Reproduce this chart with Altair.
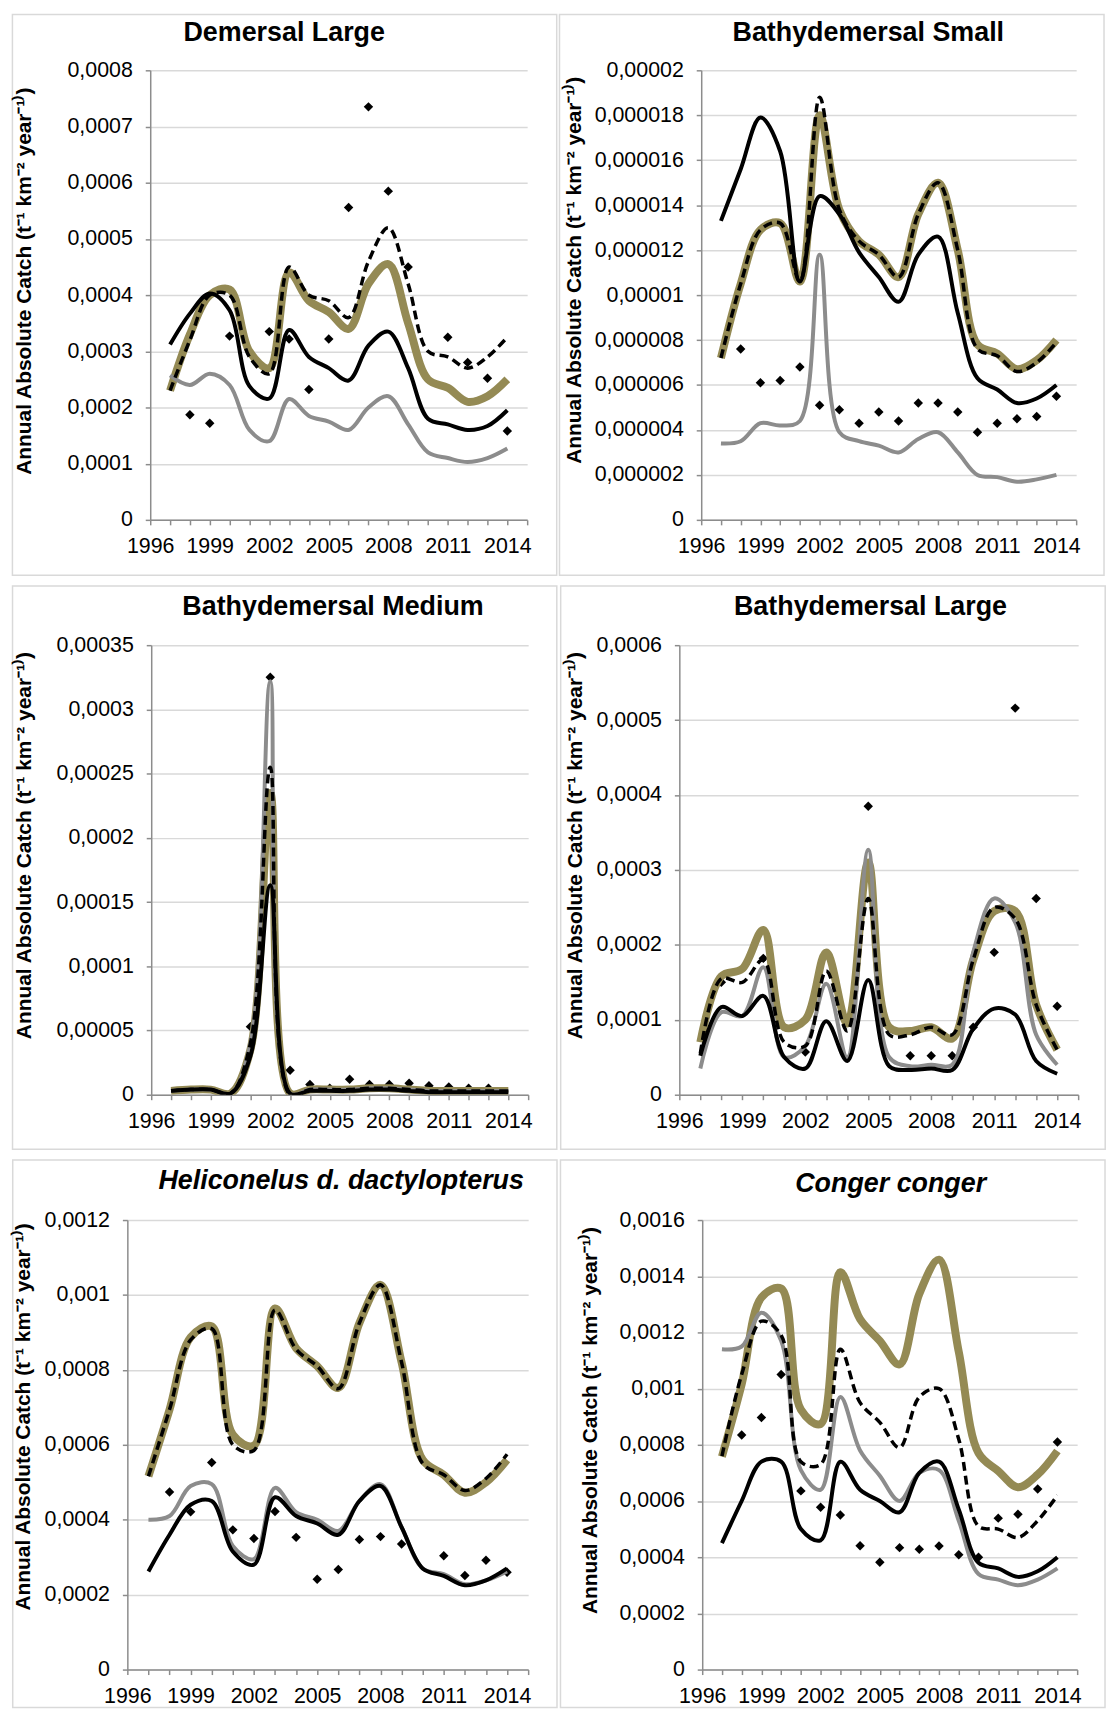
import altair as alt
import pandas as pd

FONT = "Liberation Sans"
YEARS = [1997, 1998, 1999, 2000, 2001, 2002, 2003, 2004, 2005, 2006,
         2007, 2008, 2009, 2010, 2011, 2012, 2013, 2014]
X_TICKS = [1996, 1997, 1998, 1999, 2000, 2001, 2002, 2003, 2004, 2005,
           2006, 2007, 2008, 2009, 2010, 2011, 2012, 2013, 2014, 2015]
Y_TITLE = "Annual Absolute Catch (t⁻¹ km⁻² year⁻¹⁾)"

# ---------------- Demersal Large ----------------
dl_black = [0.000312, 0.000367, 0.000403, 0.000373, 0.000238, 0.000216, 0.000338, 0.00029, 0.00027,
            0.000248, 0.00031, 0.000335, 0.00027, 0.00018, 0.00017, 0.00016, 0.000167, 0.000195]
dl_gray = [0.000257, 0.00024, 0.00026, 0.00024, 0.00016, 0.00014, 0.000215, 0.000185, 0.000175,
           0.00016, 0.0002, 0.00022, 0.00017, 0.00012, 0.00011, 0.000103, 0.00011, 0.000127]
dl_olive = [0.00023, 0.00033, 0.0004, 0.00041, 0.0003, 0.00027, 0.00044, 0.00039, 0.00037,
            0.00034, 0.00042, 0.000455, 0.00035, 0.00025, 0.000235, 0.00021, 0.00022, 0.00025]
dl_dashed = [0.00023, 0.00032, 0.0004, 0.0004, 0.00029, 0.00026, 0.00045, 0.0004, 0.00039,
             0.00036, 0.00046, 0.00052, 0.00042, 0.0003, 0.00029, 0.00027, 0.00029, 0.000325]
dl_obs_years = [1998, 1999, 2000, 2002, 2003, 2004, 2005, 2006, 2007, 2008, 2009, 2011, 2012, 2013, 2014]
dl_obs = [0.000187, 0.000172, 0.000327, 0.000335, 0.000322, 0.000232, 0.000322, 0.000556,
          0.000735, 0.000585, 0.00045, 0.000325, 0.00028, 0.000252, 0.000158]
dl_ticks = [0, 0.0001, 0.0002, 0.0003, 0.0004, 0.0005, 0.0006, 0.0007, 0.0008]

# ---------------- Bathydemersal Small ----------------
bs_black = [13.3e-6, 15.6e-6, 17.9e-6, 16.4e-6, 10.6e-6, 14.4e-6, 13.6e-6, 11.9e-6, 10.8e-6,
            9.7e-6, 11.8e-6, 12.6e-6, 9.2e-6, 6.3e-6, 5.8e-6, 5.2e-6, 5.4e-6, 6.0e-6]
bs_gray = [3.4e-6, 3.5e-6, 4.3e-6, 4.2e-6, 4.4e-6, 11.8e-6, 3.9e-6, 3.5e-6, 3.3e-6,
           3.0e-6, 3.6e-6, 3.9e-6, 3.0e-6, 2.0e-6, 1.9e-6, 1.7e-6, 1.8e-6, 2.0e-6]
bs_olive = [7.2e-6, 10.5e-6, 12.9e-6, 13.2e-6, 10.6e-6, 18.0e-6, 13.8e-6, 12.4e-6, 11.8e-6,
            10.8e-6, 13.6e-6, 15.0e-6, 12.0e-6, 7.8e-6, 7.4e-6, 6.7e-6, 7.1e-6, 8.0e-6]
bs_dashed = [7.2e-6, 10.5e-6, 12.9e-6, 13.2e-6, 10.6e-6, 18.8e-6, 13.8e-6, 12.4e-6, 11.8e-6,
             10.8e-6, 13.6e-6, 15.0e-6, 12.0e-6, 7.6e-6, 7.3e-6, 6.6e-6, 7.0e-6, 7.9e-6]
bs_obs_years = [1998, 1999, 2000, 2001, 2002, 2003, 2004, 2005, 2006, 2007, 2008, 2009,
                2010, 2011, 2012, 2013, 2014]
bs_obs = [7.6e-6, 6.1e-6, 6.2e-6, 6.8e-6, 5.1e-6, 4.9e-6, 4.3e-6, 4.8e-6, 4.4e-6, 5.2e-6,
          5.2e-6, 4.8e-6, 3.9e-6, 4.3e-6, 4.5e-6, 4.6e-6, 5.5e-6]
bs_ticks = [0, 0.000002, 0.000004, 0.000006, 0.000008, 0.00001, 0.000012, 0.000014,
            0.000016, 0.000018, 0.00002]

# ---------------- Bathydemersal Medium ----------------
bm_black = [3e-6, 4e-6, 4e-6, 1e-6, 30e-6, 163e-6, 1e-6, 3e-6, 3e-6,
            3e-6, 4e-6, 4e-6, 3e-6, 2e-6, 2e-6, 2e-6, 2e-6, 2e-6]
bm_gray = [3e-6, 4e-6, 4e-6, 1e-6, 40e-6, 322e-6, 1e-6, 4e-6, 4e-6,
           4e-6, 5e-6, 5e-6, 4e-6, 3e-6, 3e-6, 3e-6, 3e-6, 3e-6]
bm_olive = [3e-6, 4e-6, 4e-6, 1e-6, 35e-6, 235e-6, 1e-6, 4e-6, 4e-6,
            4e-6, 5e-6, 5e-6, 4e-6, 3e-6, 3e-6, 3e-6, 3e-6, 3e-6]
bm_dashed = [3e-6, 4e-6, 4e-6, 1e-6, 40e-6, 255e-6, 0.0, 4e-6, 4e-6,
             4e-6, 5e-6, 5e-6, 4e-6, 3e-6, 3e-6, 3e-6, 3e-6, 3e-6]
bm_obs_years = [2001, 2002, 2003, 2004, 2005, 2006, 2007, 2008, 2009, 2010, 2011, 2012, 2013]
bm_obs = [53e-6, 325e-6, 19e-6, 8e-6, 5e-6, 12e-6, 8e-6, 8e-6, 9e-6, 7e-6, 6e-6, 5e-6, 5e-6]
bm_ticks = [0, 0.00005, 0.0001, 0.00015, 0.0002, 0.00025, 0.0003, 0.00035]

# ---------------- Bathydemersal Large ----------------
bl_black = [52e-6, 117e-6, 105e-6, 132e-6, 50e-6, 35e-6, 98e-6, 45e-6, 153e-6,
            38e-6, 33e-6, 35e-6, 33e-6, 88e-6, 115e-6, 107e-6, 45e-6, 28e-6]
bl_gray = [35e-6, 110e-6, 105e-6, 170e-6, 50e-6, 65e-6, 148e-6, 50e-6, 327e-6,
           50e-6, 38e-6, 40e-6, 40e-6, 190e-6, 262e-6, 230e-6, 80e-6, 40e-6]
bl_olive = [70e-6, 158e-6, 168e-6, 220e-6, 90e-6, 100e-6, 190e-6, 95e-6, 310e-6,
            90e-6, 85e-6, 90e-6, 75e-6, 180e-6, 245e-6, 245e-6, 120e-6, 60e-6]
bl_dashed = [55e-6, 155e-6, 150e-6, 180e-6, 70e-6, 65e-6, 165e-6, 85e-6, 262e-6,
             80e-6, 80e-6, 90e-6, 80e-6, 180e-6, 250e-6, 235e-6, 120e-6, 60e-6]
bl_obs_years = [1998, 2000, 2002, 2005, 2007, 2008, 2009, 2010, 2011, 2012, 2013, 2014]
bl_obs = [150e-6, 182e-6, 57e-6, 385e-6, 52e-6, 52e-6, 52e-6, 90e-6, 190e-6, 516e-6, 262e-6, 118e-6]
bl_ticks = [0, 0.0001, 0.0002, 0.0003, 0.0004, 0.0005, 0.0006]

# ---------------- Heliconelus d. dactylopterus ----------------
he_black = [262e-6, 360e-6, 440e-6, 450e-6, 315e-6, 280e-6, 460e-6, 410e-6, 390e-6,
            360e-6, 450e-6, 490e-6, 380e-6, 270e-6, 250e-6, 225e-6, 238e-6, 270e-6]
he_gray = [400e-6, 410e-6, 490e-6, 495e-6, 330e-6, 295e-6, 485e-6, 420e-6, 400e-6,
           370e-6, 450e-6, 495e-6, 380e-6, 270e-6, 255e-6, 228e-6, 238e-6, 262e-6]
he_olive = [516e-6, 694e-6, 887e-6, 916e-6, 627e-6, 598e-6, 964e-6, 858e-6, 810e-6,
            752e-6, 925e-6, 1027e-6, 820e-6, 560e-6, 520e-6, 472e-6, 500e-6, 560e-6]
he_dashed = [516e-6, 694e-6, 880e-6, 910e-6, 600e-6, 585e-6, 960e-6, 855e-6, 810e-6,
             750e-6, 925e-6, 1027e-6, 820e-6, 550e-6, 520e-6, 478e-6, 510e-6, 575e-6]
he_obs_years = [1998, 1999, 2000, 2001, 2002, 2003, 2004, 2005, 2006, 2007, 2008, 2009,
                2011, 2012, 2013, 2014]
he_obs = [474e-6, 421e-6, 553e-6, 373e-6, 350e-6, 422e-6, 353e-6, 241e-6, 267e-6, 347e-6,
          355e-6, 335e-6, 304e-6, 251e-6, 292e-6, 260e-6]
he_ticks = [0, 0.0002, 0.0004, 0.0006, 0.0008, 0.001, 0.0012]

# ---------------- Conger conger ----------------
cc_black = [450e-6, 600e-6, 740e-6, 740e-6, 500e-6, 460e-6, 740e-6, 640e-6, 600e-6,
            560e-6, 700e-6, 740e-6, 570e-6, 380e-6, 360e-6, 330e-6, 350e-6, 400e-6]
cc_gray = [1140e-6, 1150e-6, 1270e-6, 1170e-6, 710e-6, 640e-6, 970e-6, 780e-6, 690e-6,
           600e-6, 700e-6, 710e-6, 530e-6, 340e-6, 320e-6, 300e-6, 320e-6, 360e-6]
cc_olive = [758e-6, 1015e-6, 1324e-6, 1356e-6, 925e-6, 874e-6, 1414e-6, 1247e-6, 1170e-6,
            1086e-6, 1337e-6, 1459e-6, 1131e-6, 771e-6, 707e-6, 649e-6, 694e-6, 778e-6]
cc_dashed = [760e-6, 1050e-6, 1240e-6, 1190e-6, 740e-6, 730e-6, 1140e-6, 950e-6, 880e-6,
             790e-6, 970e-6, 1000e-6, 820e-6, 510e-6, 500e-6, 470e-6, 530e-6, 620e-6]
cc_obs_years = [1998, 1999, 2000, 2001, 2002, 2003, 2004, 2005, 2006, 2007, 2008, 2009,
                2010, 2011, 2012, 2013, 2014]
cc_obs = [835e-6, 897e-6, 1050e-6, 636e-6, 578e-6, 550e-6, 441e-6, 382e-6, 434e-6, 428e-6,
          440e-6, 409e-6, 400e-6, 539e-6, 553e-6, 643e-6, 810e-6]
cc_ticks = [0, 0.0002, 0.0004, 0.0006, 0.0008, 0.001, 0.0012, 0.0014, 0.0016]

AXIS_GRAY = "#8c8c8c"
GRID = "#d9d9d9"
ONE = pd.DataFrame({"k": [0]})


def panel(title, italic, black, gray, olive, dashed, obs_years, obs, ticks,
          width, plot_left, plot_top, frame, title_cx, title_by, yt_x, yt_y):
    rows = []
    for name, vals in (("olive", olive), ("gray", gray), ("black", black), ("dashed", dashed)):
        for yr, v in zip(YEARS, vals):
            rows.append({"year": yr, "value": v, "series": name})
    for yr, v in zip(obs_years, obs):
        rows.append({"year": yr, "value": v, "series": "obs"})
    df = pd.DataFrame(rows)

    xax = alt.Axis(values=X_TICKS, grid=False, title=None,
                   labelExpr="(datum.value - 1996) % 3 == 0 && datum.value <= 2014 ? format(datum.value, 'd') : ''",
                   labelFont=FONT, labelFontSize=21.5, labelColor="black", labelPadding=11,
                   labelOverlap=False, labelFlush=False,
                   tickSize=5, tickColor=AXIS_GRAY, tickWidth=1.5,
                   domainColor=AXIS_GRAY, domainWidth=1.5)
    yax = alt.Axis(values=ticks, grid=True, gridColor=GRID, gridWidth=1.5, title=None,
                   labelExpr="replace(format(datum.value, '.7~f'), '.', ',')",
                   labelFont=FONT, labelFontSize=21.5, labelColor="black", labelPadding=13,
                   labelOverlap=False, labelFlush=False,
                   tickSize=5, tickColor=AXIS_GRAY, tickWidth=1.5,
                   domainColor=AXIS_GRAY, domainWidth=1.5)
    x = alt.X("year:Q", scale=alt.Scale(domain=[1996, 2015], nice=False, zero=False), axis=xax)
    y = alt.Y("value:Q", scale=alt.Scale(domain=[0, ticks[-1]], nice=False, zero=True), axis=yax)

    base = alt.Chart(df)
    fx1, fy1, fx2, fy2 = frame
    frame_layer = alt.Chart(ONE).mark_rect(
        fillOpacity=0, stroke=GRID, strokeWidth=1.5
    ).encode(x=alt.value(fx1 - plot_left), x2=alt.value(fx2 - plot_left),
             y=alt.value(fy1 - plot_top), y2=alt.value(fy2 - plot_top))

    title_layer = alt.Chart(ONE).mark_text(
        text=title, font=FONT, fontSize=27, fontWeight="bold",
        fontStyle="italic" if italic else "normal", color="black",
        align="center", baseline="alphabetic"
    ).encode(x=alt.value(title_cx - plot_left), y=alt.value(title_by - plot_top))

    ytitle_layer = alt.Chart(ONE).mark_text(
        text=Y_TITLE, font=FONT, fontSize=21, fontWeight="bold", color="black",
        angle=270, align="center", baseline="bottom"
    ).encode(x=alt.value(yt_x), y=alt.value(yt_y))

    pts = base.transform_filter(alt.datum.series == "obs").mark_point(
        shape="diamond", filled=True, color="black", size=90, opacity=1
    ).encode(x=x, y=y)

    def line(name, color, w, dash=None):
        kw = dict(interpolate="catmull-rom", color=color, strokeWidth=w, clip=True,
                  strokeJoin="round")
        if dash:
            kw["strokeDash"] = dash
        return base.transform_filter(alt.datum.series == name).mark_line(**kw).encode(
            x=x, y=y, order="year:Q")

    layers = [frame_layer, pts,
              line("olive", "#948a54", 8),
              line("gray", "#8c8c8c", 4),
              line("black", "#000000", 4),
              line("dashed", "#000000", 3.5, [9, 5]),
              title_layer, ytitle_layer]
    return alt.layer(*layers).properties(width=width, height=452)


def spacer():
    # invisible, zero-size anchor so that the panels after it are aligned by their frames
    return alt.Chart(ONE).mark_rule(strokeWidth=0, opacity=0).encode(
        x=alt.value(0), x2=alt.value(0), y=alt.value(0), y2=alt.value(0)
    ).properties(width=1, height=1)


R1 = (8.5, 572.3)
R2 = (581.0, 1147.3)
R3 = (1156.7, 1707.0)
C1 = (9.75, 557.0)
C2 = (558.5, 1106.0)

p_dl = panel("Demersal Large", False, dl_black, dl_gray, dl_olive, dl_dashed, dl_obs_years, dl_obs,
             dl_ticks, 379, 148.3, 64.5, (C1[0], R1[0], C1[1], R1[1]), 283, 35, -116, 212)
p_bs = panel("Bathydemersal Small", False, bs_black, bs_gray, bs_olive, bs_dashed, bs_obs_years, bs_obs,
             bs_ticks, 377, 701, 64.5, (C2[0], R1[0], C2[1], R1[1]), 869, 35, -117, 201)
p_bm = panel("Bathydemersal Medium", False, bm_black, bm_gray, bm_olive, bm_dashed, bm_obs_years, bm_obs,
             bm_ticks, 379, 149.2, 640.5, (C1[0], R2[0], C1[1], R2[1]), 332, 610, -117, 201.5)
p_bl = panel("Bathydemersal Large", False, bl_black, bl_gray, bl_olive, bl_dashed, bl_obs_years, bl_obs,
             bl_ticks, 401, 677.8, 640.5, (C2[0], R2[0], C2[1], R2[1]), 870, 610, -94, 201.5)
p_he = panel("Heliconelus d. dactylopterus", True, he_black, he_gray, he_olive, he_dashed, he_obs_years,
             he_obs, he_ticks, 403, 125, 1217, (C1[0], R3[0], C1[1], R3[1]), 340, 1186, -94, 198)
p_cc = panel("Conger conger", True, cc_black, cc_gray, cc_olive, cc_dashed, cc_obs_years, cc_obs,
             cc_ticks, 377, 701, 1217, (C2[0], R3[0], C2[1], R3[1]), 890.5, 1189, -102, 201.6)

row1 = alt.hconcat(spacer(), p_dl, p_bs, spacing=0)
row2 = alt.hconcat(spacer(), p_bm, p_bl, spacing=0)
row3 = alt.hconcat(spacer(), p_he, p_cc, spacing=0)

chart = alt.vconcat(row1, row2, row3, spacing=7).properties(
    padding=0, background="white"
).configure_view(stroke="transparent")

chart.save("out.html", embed_options={"renderer": "svg", "actions": False})
